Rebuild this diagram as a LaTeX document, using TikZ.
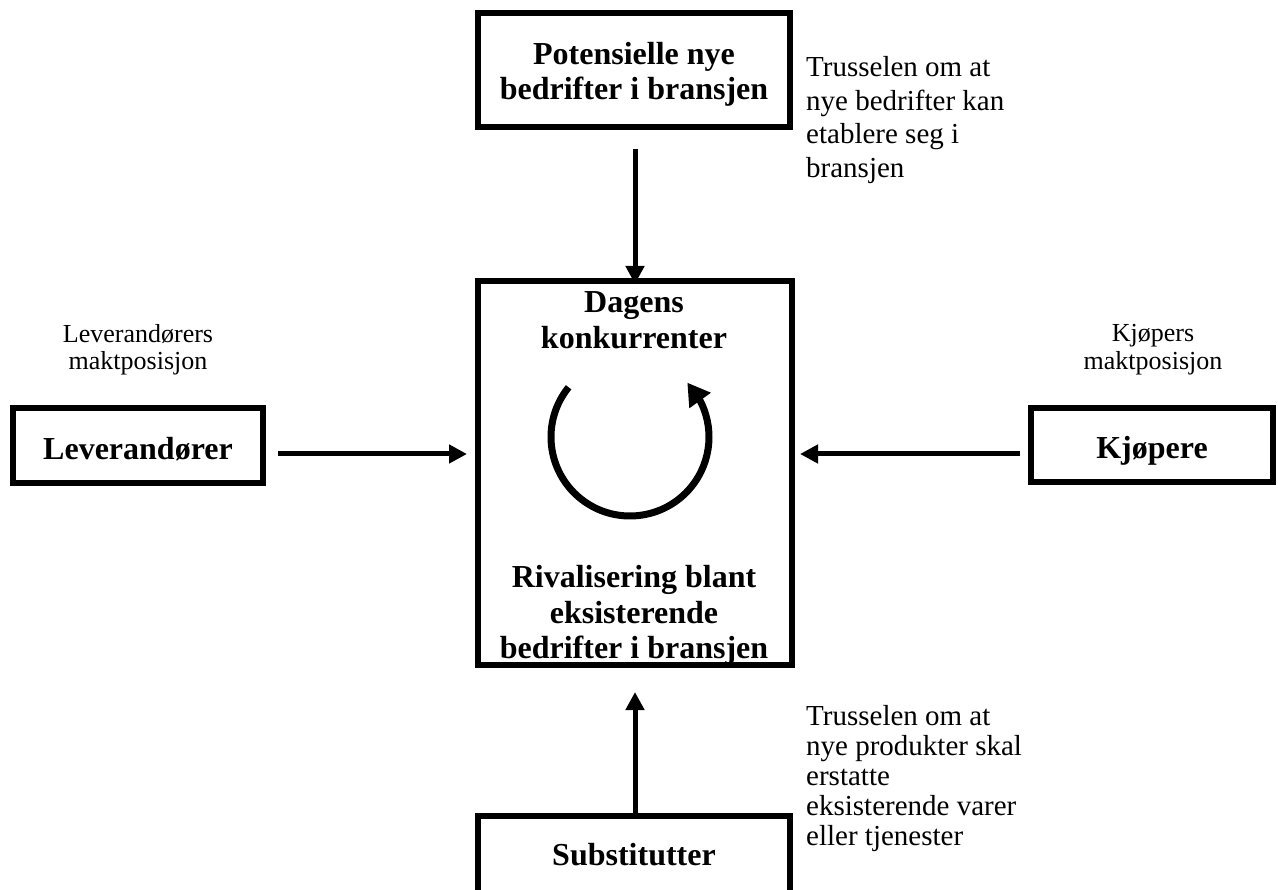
\documentclass[tikz,border=0pt]{standalone}
\usepackage{fontspec}
\setmainfont{Liberation Serif}
\usetikzlibrary{arrows.meta,bending}

\tikzset{
  box/.style={draw, line width=6pt, inner sep=0pt},
  title/.style={font=\bfseries\fontsize{32}{35}\selectfont, anchor=base, inner sep=0pt},
  force/.style={font=\fontsize{26}{28}\selectfont, anchor=base, inner sep=0pt},
  note/.style={font=\fontsize{29}{33}\selectfont, anchor=base west, inner sep=0pt},
  arr/.style={line width=5pt, -{Triangle[length=18pt,width=18pt]}},
  cyc/.style={line width=7pt, -{Triangle[length=22pt,width=25pt,flex]}}
}

\begin{document}
\begin{tikzpicture}[x=1pt,y=1pt]
  \useasboundingbox (0,0) rectangle (1278,-890);
  \clip (0,0) rectangle (1278,-890);
  \fill[white] (0,0) rectangle (1278,-890);

  % the five boxes of the model
  \node[box, minimum width=312pt, minimum height=114pt] (pot) at (634,-70) {};
  \node[box, minimum width=314pt, minimum height=384pt] (mid) at (635,-473) {};
  \node[box, minimum width=250pt, minimum height=75pt] (lev) at (138,-445.5) {};
  \node[box, minimum width=242pt, minimum height=74pt] (kjo) at (1152,-445) {};
  \node[box, minimum width=312pt, minimum height=114pt] (sub) at (634,-873) {};

  % box titles
  \node[title] (pot1) at (634,-65) {Potensielle nye};
  \node[title] (pot2) at (634,-100) {bedrifter i bransjen};
  \node[title] (mid1) at (634,-313) {Dagens};
  \node[title] (mid2) at (634,-349) {konkurrenter};
  \node[title] (mid3) at (634,-587) {Rivalisering blant};
  \node[title] (mid4) at (634,-623) {eksisterende};
  \node[title] (mid5) at (634,-658) {bedrifter i bransjen};
  \node[title] (levt) at (138,-460) {Leverandører};
  \node[title] (kjot) at (1152,-459) {Kjøpere};
  \node[title] (subt) at (634,-865) {Substitutter};

  % power labels above the side boxes
  \node[force] (levl1) at (138,-343) {Leverandørers};
  \node[force] (levl2) at (138,-370) {maktposisjon};
  \node[force] (kjol1) at (1153,-342) {Kjøpers};
  \node[force] (kjol2) at (1153,-370) {maktposisjon};

  % threat notes
  \node[note] (nyl1) at (806,-77) {Trusselen om at};
  \node[note] (nyl2) at (806,-111) {nye bedrifter kan};
  \node[note] (nyl3) at (806,-144) {etablere seg i};
  \node[note] (nyl4) at (806,-178) {bransjen};
  \node[note] (subl1) at (806,-725) {Trusselen om at};
  \node[note] (subl2) at (806,-755) {nye produkter skal};
  \node[note] (subl3) at (806,-785) {erstatte};
  \node[note] (subl4) at (806,-815) {eksisterende varer};
  \node[note] (subl5) at (806,-845) {eller tjenester};

  % forces acting on the industry
  \draw[arr] ([shift={(1,-19)}]pot.south) -- ([shift={(0,-6)}]mid.north);
  \draw[arr] ([shift={(12,-8.5)}]lev.east) -- ([shift={(-8,19)}]mid.west);
  \draw[arr] ([shift={(-8,-9)}]kjo.west) -- ([shift={(5,19)}]mid.east);
  \draw[arr] ([xshift=1]sub.north) -- ([yshift=-24]mid.south);

  % rivalry cycle
  \coordinate (cyc) at (630,-437);
  \draw[cyc] ([shift={(141:79)}]cyc) arc[start angle=141, end angle=403.5, radius=79];
\end{tikzpicture}
\end{document}
